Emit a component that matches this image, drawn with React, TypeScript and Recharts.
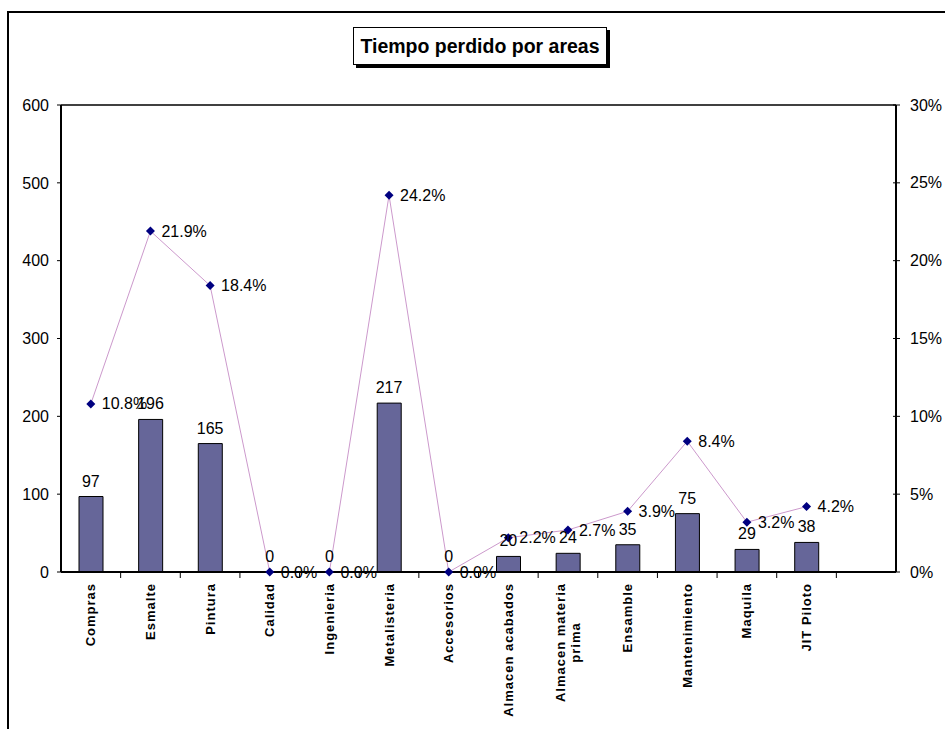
import {
  ComposedChart,
  Bar,
  Line,
  XAxis,
  YAxis,
  LabelList,
  ReferenceLine,
} from 'recharts'

const CATEGORIES = [
  'Compras',
  'Esmalte',
  'Pintura',
  'Calidad',
  'Ingenieria',
  'Metalisteria',
  'Accesorios',
  'Almacen acabados',
  'Almacen materia prima',
  'Ensamble',
  'Mantenimiento',
  'Maquila',
  'JIT Piloto',
  '',
]
const TIEMPO = [97, 196, 165, 0, 0, 217, 0, 20, 24, 35, 75, 29, 38, null]
const PORCENTAJE = [0.108, 0.219, 0.184, 0, 0, 0.242, 0, 0.022, 0.027, 0.039, 0.084, 0.032, 0.042, null]
const LEFT_TICKS = [0, 100, 200, 300, 400, 500, 600]
const RIGHT_TICKS = [0, 0.05, 0.1, 0.15, 0.2, 0.25, 0.3]

const data = CATEGORIES.map((area, i) => ({ area, tiempo: TIEMPO[i], porcentaje: PORCENTAJE[i] }))

const FONT = 'Arial, "Liberation Sans", sans-serif'
const W = 945
const H = 729
const PLOT_LEFT = 61
const PLOT_RIGHT = 896
const PLOT_TOP = 105
const PLOT_BOTTOM = 572
const BAND = (PLOT_RIGHT - PLOT_LEFT) / CATEGORIES.length
const LABEL_SPACING = 1

let ctx: CanvasRenderingContext2D | null = null
function textWidth(s: string, font: string) {
  if (!ctx) ctx = document.createElement('canvas').getContext('2d')
  if (!ctx) return s.length * 8
  ctx.font = font
  return ctx.measureText(s).width + s.length * LABEL_SPACING
}

// wrap category names the way excel does (about 16 chars a line)
function wrap(name: string, max = 16): string[] {
  const lines: string[] = []
  let cur = ''
  for (const w of name.split(' ')) {
    const next = cur ? cur + ' ' + w : w
    if (next.length > max && cur) {
      lines.push(cur)
      cur = w
    } else cur = next
  }
  if (cur) lines.push(cur)
  return lines
}

// eslint-disable-next-line @typescript-eslint/no-explicit-any
function AreaTick(props: any) {
  const { x, y, payload, index } = props
  const axisY = y - 11
  const left = x - BAND / 2
  const name: string = payload.value
  const lines = name ? wrap(name) : []
  const lh = 15
  const font = `bold 13px ${FONT}`
  const blockW = Math.max(0, ...lines.map(l => textWidth(l, font)))
  return (
    <g>
      {index > 0 && <line x1={left} x2={left} y1={axisY} y2={axisY + 6} stroke="#000" strokeWidth={1} />}
      <g transform={`translate(${x},${y}) rotate(-90)`}>
        {lines.map((l, i) => (
          <text
            key={i}
            x={lines.length > 1 ? -blockW / 2 : 0}
            y={(i - (lines.length - 1) / 2) * lh}
            dy="0.35em"
            textAnchor={lines.length > 1 ? 'middle' : 'end'}
            fontFamily={FONT}
            fontWeight="bold"
            fontSize={13}
            letterSpacing={LABEL_SPACING}
            fill="#000"
          >
            {l}
          </text>
        ))}
      </g>
    </g>
  )
}

// eslint-disable-next-line @typescript-eslint/no-explicit-any
function PctTick(props: any) {
  const { x, y, payload } = props
  const axisX = x - 4 - 10
  return (
    <g>
      <line x1={axisX - 3} x2={axisX} y1={y} y2={y} stroke="#000" strokeWidth={1} />
      <text x={x} y={y} dy="0.35em" textAnchor="start" fontFamily={FONT} fontSize={16} fill="#000">
        {Math.round(payload.value * 100)}%
      </text>
    </g>
  )
}

// eslint-disable-next-line @typescript-eslint/no-explicit-any
function Diamond(props: any) {
  const { cx, cy, index } = props
  if (cx == null || cy == null || props.value == null) return <g key={`d${index}`} />
  const r = 4.5
  return (
    <polygon
      key={`d${index}`}
      points={`${cx},${cy - r} ${cx + r},${cy} ${cx},${cy + r} ${cx - r},${cy}`}
      fill="#000080"
    />
  )
}

// eslint-disable-next-line @typescript-eslint/no-explicit-any
function PctLabel(props: any) {
  const { x, y, value } = props
  if (value == null) return null
  return (
    <text x={x + 11} y={y} dy="0.35em" fontFamily={FONT} fontSize={16} fill="#000">
      {(value * 100).toFixed(1)}%
    </text>
  )
}

// value above each bar; drawn from an invisible line so the zero bars get one too
// eslint-disable-next-line @typescript-eslint/no-explicit-any
function BarValue(props: any) {
  const { x, y, value } = props
  if (value == null) return null
  return (
    <text x={x} y={y - 10} textAnchor="middle" fontFamily={FONT} fontSize={16} fill="#000">
      {value}
    </text>
  )
}

export default function App() {
  return (
    <div style={{ position: 'absolute', left: 0, top: 0, width: W, height: H, overflow: 'hidden', background: '#fff' }}>
      <div
        style={{
          position: 'absolute',
          left: 7,
          top: 11,
          width: 1200,
          height: 1000,
          borderLeft: '2px solid #000',
          borderTop: '2px solid #000',
        }}
      />
      <div
        style={{
          position: 'absolute',
          left: 353,
          top: 27,
          width: 252,
          height: 36,
          border: '1px solid #000',
          boxShadow: '3px 3px 0 #000',
          background: '#fff',
          fontFamily: FONT,
          fontWeight: 'bold',
          fontSize: 19.5,
          lineHeight: '36px',
          textAlign: 'center',
          zIndex: 2,
        }}
      >
        Tiempo perdido por areas
      </div>
      <div style={{ position: 'absolute', left: 0, top: 0 }}>
        <ComposedChart
          width={W}
          height={H}
          data={data}
          margin={{ top: PLOT_TOP, right: 0, bottom: 0, left: 0 }}
        >
          <XAxis
            dataKey="area"
            interval={0}
            height={H - PLOT_BOTTOM}
            tickLine={false}
            tickSize={6}
            tickMargin={5}
            tick={<AreaTick />}
            axisLine={{ stroke: '#000', strokeWidth: 2 }}
          />
          <YAxis
            yAxisId="left"
            width={PLOT_LEFT}
            domain={[0, 600]}
            ticks={LEFT_TICKS}
            tickSize={4}
            tickMargin={8}
            axisLine={{ stroke: '#000', strokeWidth: 2 }}
            tickLine={{ stroke: '#000' }}
            tick={{ fill: '#000', fontSize: 16, fontFamily: FONT }}
          />
          <YAxis
            yAxisId="right"
            orientation="right"
            width={W - PLOT_RIGHT}
            domain={[0, 0.3]}
            ticks={RIGHT_TICKS}
            tickSize={4}
            tickMargin={10}
            axisLine={{ stroke: '#000', strokeWidth: 2 }}
            tickLine={{ stroke: '#000' }}
            tick={<PctTick />}
          />
          <ReferenceLine yAxisId="left" y={600} stroke="#000" strokeWidth={1.5} />
          <Bar
            yAxisId="left"
            dataKey="tiempo"
            barSize={24}
            fill="#666699"
            stroke="#000"
            strokeWidth={1}
            isAnimationActive={false}
          />
          <Line
            yAxisId="left"
            dataKey="tiempo"
            stroke="none"
            dot={false}
            activeDot={false}
            legendType="none"
            isAnimationActive={false}
          >
            <LabelList dataKey="tiempo" content={<BarValue />} />
          </Line>
          <Line
            yAxisId="right"
            dataKey="porcentaje"
            stroke="#cc99cc"
            strokeWidth={1}
            dot={Diamond}
            activeDot={false}
            isAnimationActive={false}
          >
            <LabelList dataKey="porcentaje" content={<PctLabel />} />
          </Line>
        </ComposedChart>
      </div>
    </div>
  )
}
